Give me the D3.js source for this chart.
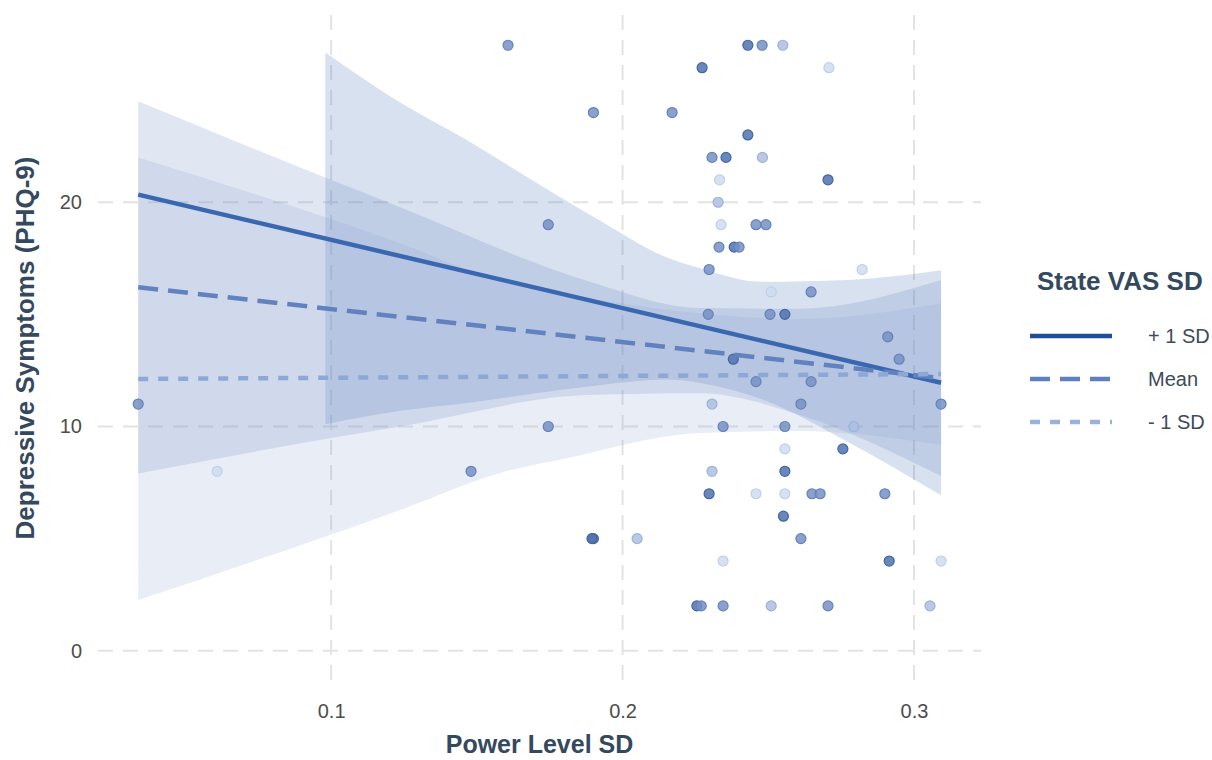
<!DOCTYPE html>
<html>
<head>
<meta charset="utf-8">
<script src="https://cdn.jsdelivr.net/npm/d3@7"></script>
<style>
  html, body { margin: 0; padding: 0; background: #ffffff; }
  svg { display: block; font-family: "Liberation Sans", Arial, Helvetica, sans-serif; }
</style>
</head>
<body>
<svg id="chart" width="1212" height="760"></svg>
<script>
// ---- Observed data: Power Level SD vs. PHQ-9 score, shade = State VAS SD level ----
const powerSD = [0.0338, 0.0609, 0.148, 0.1607, 0.1745, 0.1745, 0.190, 0.190, 0.1895, 0.205,
  0.217, 0.2255, 0.2270, 0.2273, 0.2297, 0.2294, 0.2297, 0.2307, 0.2307, 0.2307,
  0.2328, 0.2331, 0.2333, 0.2338, 0.2345, 0.2345, 0.2345, 0.2355, 0.2380, 0.2383,
  0.2400, 0.2430, 0.2430, 0.2458, 0.2458, 0.2458, 0.2479, 0.2480, 0.2492, 0.2506,
  0.2510, 0.2510, 0.2552, 0.2550, 0.2557, 0.2557, 0.2557, 0.2557, 0.2557, 0.2612,
  0.2612, 0.2647, 0.2647, 0.2650, 0.2678, 0.2705, 0.2705, 0.2708, 0.2756, 0.2794,
  0.2822, 0.2900, 0.2910, 0.2915, 0.2949, 0.3055, 0.3093, 0.3093];
const phq9 = [11, 8, 8, 27, 19, 10, 24, 5, 5, 5,
  24, 2, 2, 26, 17, 15, 7, 22, 11, 8,
  20, 18, 21, 19, 10, 4, 2, 22, 13, 18,
  18, 27, 23, 19, 12, 7, 27, 22, 19, 15,
  16, 2, 6, 27, 15, 10, 9, 8, 7, 11,
  5, 16, 12, 7, 7, 21, 2, 26, 9, 10,
  17, 7, 14, 4, 13, 2, 11, 4];
// 1 = high, 2 = mid, 3 = low, 4 = lowest State VAS SD
const vasLevel = [2, 4, 2, 2, 2, 2, 2, 1, 1, 3,
  2, 1, 2, 1, 2, 2, 1, 2, 3, 3,
  3, 2, 4, 4, 2, 4, 2, 1, 1, 1,
  2, 1, 1, 2, 2, 4, 2, 3, 2, 2,
  4, 3, 1, 3, 1, 2, 4, 1, 4, 2,
  2, 2, 2, 2, 2, 1, 2, 4, 1, 3,
  4, 2, 2, 1, 2, 3, 2, 4];

// ---- Simple slopes (fitted lines) at three levels of State VAS SD ----
const groups = ["+ 1 SD", "Mean", "- 1 SD"];
const lineX = [0.0338, 0.3093];
const linePlus = [20.34, 11.95];
const lineMean = [16.21, 12.16];
const lineMinus = [12.12, 12.34];

// ---- Confidence bands (x, lower, upper) ----
const bandPlusX = [0.098, 0.1237, 0.1467, 0.169, 0.192, 0.215, 0.2266, 0.248, 0.277, 0.3093];
const bandPlusLo = [10.1, 10.7, 11.05, 11.46, 11.84, 12.09, 11.94, 11.2, 9.33, 6.93];
const bandPlusHi = [26.68, 24.45, 22.76, 20.98, 19.2, 17.55, 17.06, 16.45, 16.53, 16.97];

const bandMeanX = [0.0338, 0.098, 0.1237, 0.1877, 0.2266, 0.26, 0.3093];
const bandMeanLo = [7.9, 9.44, 10.0, 11.4, 11.48, 10.55, 7.79];
const bandMeanHi = [24.5, 21.1, 19.78, 16.5, 15.28, 15.25, 16.53];

const bandMinusX = [0.0338, 0.1237, 0.158, 0.178, 0.2266, 0.26, 0.3093];
const bandMinusLo = [2.26, 6.28, 7.93, 8.5, 9.71, 9.8, 9.18];
const bandMinusHi = [22.0, 18.17, 16.5, 15.98, 15.05, 14.8, 15.5];

const xTicks = [0.1, 0.2, 0.3];
const yTicks = [0, 10, 20];

// ---- Layout ----
const svg = d3.select("#chart");
const panel = { left: 98, right: 981, top: 15, bottom: 681 };

const x = d3.scaleLinear().domain([0.02, 0.323]).range([panel.left, panel.right]);
const y = d3.scaleLinear().domain([-1.35, 28.35]).range([panel.bottom, panel.top]);

const lineColors = ["#3a68b0", "#6282bf", "#8ea8d6"];
const legendColors = ["#1f4f9a", "#5f7fbf", "#9ab1da"];
const bandColors = ["#3a68b0", "#6282bf", "#8fa7d4"];
const dashes = [null, "20 10", "10 10"];
const pointFill = { 1: "#5072ae", 2: "#7590c4", 3: "#adc0e1", 4: "#cfdcf0" };
const pointStroke = { 1: "#4166a6", 2: "#6582bb", 3: "#9cb2da", 4: "#bfd0ea" };

// Grid
const grid = svg.append("g").attr("class", "grid");
grid.selectAll("line.h").data(yTicks).join("line")
  .attr("x1", panel.left).attr("x2", panel.right)
  .attr("y1", d => y(d)).attr("y2", d => y(d))
  .attr("stroke", "#e3e3e3").attr("stroke-width", 2).attr("stroke-dasharray", "15 10");
grid.selectAll("line.v").data(xTicks).join("line")
  .attr("y1", panel.top).attr("y2", panel.bottom)
  .attr("x1", d => x(d)).attr("x2", d => x(d))
  .attr("stroke", "#e3e3e3").attr("stroke-width", 2).attr("stroke-dasharray", "15 10");

// Bands
const bands = [
  { xs: bandPlusX, lo: bandPlusLo, hi: bandPlusHi, c: bandColors[0] },
  { xs: bandMeanX, lo: bandMeanLo, hi: bandMeanHi, c: bandColors[1] },
  { xs: bandMinusX, lo: bandMinusLo, hi: bandMinusHi, c: bandColors[2] }
];
const area = d3.area()
  .x(d => x(d[0])).y0(d => y(d[1])).y1(d => y(d[2]))
  .curve(d3.curveMonotoneX);
svg.append("g").selectAll("path").data(bands).join("path")
  .attr("d", b => area(b.xs.map((v, i) => [v, b.lo[i], b.hi[i]])))
  .attr("fill", b => b.c).attr("fill-opacity", 0.2);

// Points
const pts = powerSD.map((v, i) => ({ x: v, y: phq9[i], g: vasLevel[i] }));
svg.append("g").selectAll("circle").data(pts).join("circle")
  .attr("cx", d => x(d.x)).attr("cy", d => y(d.y)).attr("r", 5)
  .attr("fill", d => pointFill[d.g]).attr("fill-opacity", 0.85)
  .attr("stroke", d => pointStroke[d.g]).attr("stroke-width", 1.2);

// Fitted lines
const lines = [linePlus, lineMean, lineMinus];
const lineGen = d3.line().x(d => x(d[0])).y(d => y(d[1]));
svg.append("g").selectAll("path").data(lines).join("path")
  .attr("d", l => lineGen(lineX.map((v, i) => [v, l[i]])))
  .attr("fill", "none")
  .attr("stroke", (l, i) => lineColors[i])
  .attr("stroke-width", 4.5)
  .attr("stroke-dasharray", (l, i) => dashes[i]);

// Axes (labels only, no axis lines)
const xAxis = svg.append("g").attr("transform", `translate(0,${panel.bottom})`)
  .call(d3.axisBottom(x).tickValues(xTicks).tickFormat(d3.format(".1f")).tickSize(0).tickPadding(23));
const yAxis = svg.append("g").attr("transform", `translate(${panel.left},0)`)
  .call(d3.axisLeft(y).tickValues(yTicks).tickFormat(d3.format("d")).tickSize(0).tickPadding(16));
[xAxis, yAxis].forEach(a => {
  a.select(".domain").remove();
  a.selectAll("text").attr("font-size", 20).attr("fill", "#4d4d4d")
    .attr("font-family", "'Liberation Sans', Arial, sans-serif");
});

// Axis titles
svg.append("text")
  .attr("x", (panel.left + panel.right) / 2).attr("y", 753)
  .attr("text-anchor", "middle").attr("font-size", 25).attr("font-weight", "bold")
  .attr("fill", "#34495e").text("Power Level SD");
svg.append("text")
  .attr("transform", `translate(34,${(panel.top + panel.bottom) / 2}) rotate(-90)`)
  .attr("text-anchor", "middle").attr("font-size", 26).attr("font-weight", "bold")
  .attr("fill", "#34495e").text("Depressive Symptoms (PHQ-9)");

// Legend
const legend = svg.append("g");
legend.append("text").attr("x", 1037).attr("y", 290)
  .attr("font-size", 26).attr("font-weight", "bold").attr("fill", "#34495e")
  .text("State VAS SD");
const legY = [336, 379, 422];
groups.forEach((g, i) => {
  legend.append("line")
    .attr("x1", 1030).attr("x2", 1112).attr("y1", legY[i]).attr("y2", legY[i])
    .attr("stroke", legendColors[i]).attr("stroke-width", 4.5)
    .attr("stroke-dasharray", dashes[i]);
  legend.append("text").attr("x", 1148).attr("y", legY[i] + 7)
    .attr("font-size", 20).attr("fill", "#3d4b5c").text(g);
});
</script>
</body>
</html>
